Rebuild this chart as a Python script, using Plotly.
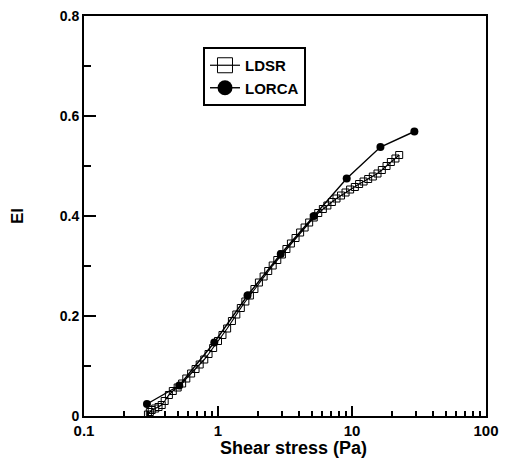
import plotly.graph_objects as go

# LDSR (open squares)
ldsr_x = [0.30, 0.31, 0.32, 0.34, 0.36, 0.38, 0.40, 0.43, 0.46, 0.50, 0.54, 0.58,
          0.63, 0.68, 0.73, 0.79, 0.85, 0.92, 1.0, 1.08, 1.17, 1.27, 1.37, 1.48,
          1.6, 1.73, 1.87, 2.02, 2.19, 2.37, 2.56, 2.77, 3.0, 3.24, 3.5, 3.79,
          4.1, 4.43, 4.79, 5.18, 5.6, 6.06, 6.55, 7.08, 7.66, 8.28, 8.95, 9.68,
          10.5, 11.3, 12.2, 13.2, 14.3, 15.5, 16.7, 18.1, 19.5, 21.1, 22.5]
ldsr_y = [0.003, 0.008, 0.012, 0.015, 0.018, 0.022, 0.030, 0.042, 0.050, 0.057, 0.065, 0.075,
          0.085, 0.094, 0.103, 0.113, 0.124, 0.136, 0.150, 0.162, 0.175, 0.190, 0.203, 0.216,
          0.229, 0.241, 0.254, 0.267, 0.279, 0.290, 0.301, 0.312, 0.323, 0.334, 0.345, 0.356,
          0.367, 0.377, 0.387, 0.397, 0.406, 0.414, 0.421, 0.428, 0.435, 0.441, 0.447, 0.453,
          0.458, 0.464, 0.469, 0.474, 0.479, 0.485, 0.492, 0.500, 0.508, 0.515, 0.522]

# LORCA (filled circles)
lorca_x = [0.295, 0.514, 0.938, 1.66, 2.94, 5.2, 9.13, 16.3, 29.2]
lorca_y = [0.024, 0.061, 0.147, 0.241, 0.324, 0.400, 0.475, 0.538, 0.569]

x_ticks = [0.1, 1, 10, 100]
x_tick_labels = ["0.1", "1", "10", "100"]
y_ticks = [0, 0.2, 0.4, 0.6, 0.8]
y_tick_labels = ["0", "0.2", "0.4", "0.6", "0.8"]
x_title = "Shear stress (Pa)"
y_title = "EI"

FONT = "Arial, Liberation Sans, sans-serif"

fig = go.Figure()
fig.add_trace(go.Scatter(x=ldsr_x, y=ldsr_y, mode="lines+markers", showlegend=False,
                         line=dict(color="black", width=1.2),
                         marker=dict(symbol="square-open", size=7, color="black",
                                     line=dict(width=1, color="black"))))
fig.add_trace(go.Scatter(x=lorca_x, y=lorca_y, mode="lines+markers", showlegend=False,
                         line=dict(color="black", width=1.4),
                         marker=dict(symbol="circle", size=8, color="black")))
# legend-only entries with larger symbols
fig.add_trace(go.Scatter(x=[None], y=[None], mode="lines+markers", name="LDSR",
                         line=dict(color="black", width=1.2),
                         marker=dict(symbol="square-open", size=15, color="black",
                                     line=dict(width=1, color="black"))))
fig.add_trace(go.Scatter(x=[None], y=[None], mode="lines+markers", name="LORCA",
                         line=dict(color="black", width=1.4),
                         marker=dict(symbol="circle", size=15, color="black")))

fig.update_layout(
    width=506, height=463,
    margin=dict(l=84, r=20, t=16, b=47, autoexpand=False),
    paper_bgcolor="white", plot_bgcolor="white",
    font=dict(family=FONT, color="black", size=13, weight="bold"),
    legend=dict(x=0.296, y=0.9225, xanchor="left", yanchor="top",
                bordercolor="black", borderwidth=2, bgcolor="white",
                font=dict(size=15, weight="bold", family=FONT),
                tracegroupgap=0),
    annotations=[
        dict(text=x_title, xref="paper", yref="paper", x=0.52, y=0, yshift=-32,
             xanchor="center", yanchor="middle", showarrow=False,
             font=dict(size=18, weight="bold", family=FONT)),
        dict(text=y_title, xref="paper", yref="paper", x=0, y=0.5, xshift=-67,
             xanchor="center", yanchor="middle", showarrow=False, textangle=-90,
             font=dict(size=17, weight="bold", family=FONT)),
    ],
)
fig.update_xaxes(
    type="log", range=[-1, 2], automargin=False, ticklabeloverflow="allow",
    tickvals=x_ticks, ticktext=x_tick_labels,
    ticks="inside", ticklen=10, tickwidth=2, tickcolor="black",
    minor=dict(ticks="inside", ticklen=5, tickwidth=1.5, tickcolor="black", dtick="D1", showgrid=False),
    showline=True, linecolor="black", linewidth=2, mirror=True,
    showgrid=False, zeroline=False,
    tickfont=dict(size=15, weight="bold", family=FONT),
)
fig.update_yaxes(
    range=[0, 0.8], automargin=False, ticklabeloverflow="allow",
    tickvals=y_ticks, ticktext=y_tick_labels,
    ticks="inside", ticklen=12, tickwidth=2, tickcolor="black",
    minor=dict(ticks="inside", ticklen=7, tickwidth=1.5, tickcolor="black", dtick=0.1, showgrid=False),
    showline=True, linecolor="black", linewidth=2, mirror=True,
    showgrid=False, zeroline=False,
    tickfont=dict(size=14, weight="bold", family=FONT),
)

fig.write_html(
    "out.html",
    config={"displayModeBar": False},
    post_script="document.body.style.margin='0';document.body.style.overflow='hidden';",
)
